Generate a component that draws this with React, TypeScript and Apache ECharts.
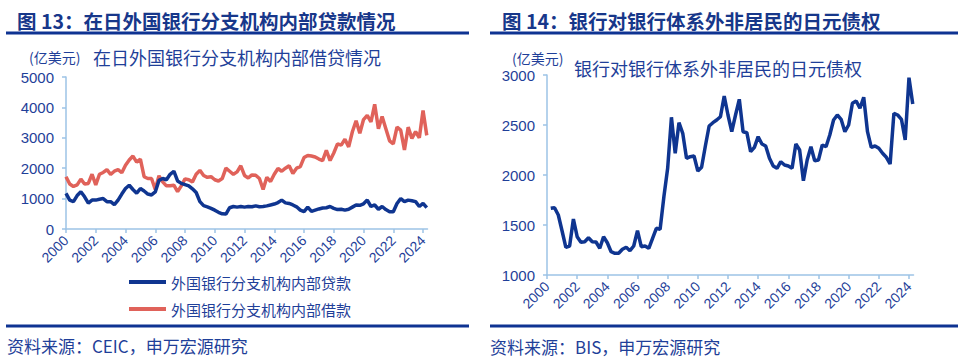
import React, { useEffect, useRef } from "react";
import * as echarts from "echarts";

// Left chart: quarterly readings starting 2000Q1 (in 100 million USD)
const leftStart = 2000;
const lendingValues = [
  1170, 950, 900, 1100,
  1225, 1060, 850, 950,
  950, 980, 1000, 900,
  900, 800, 950, 1150,
  1330, 1440, 1300, 1180,
  1330, 1250, 1150, 1120,
  1220, 1600, 1660, 1620,
  1800, 1900, 1580, 1500,
  1460, 1420, 1320, 1200,
  900, 770, 730, 680,
  620, 550, 500, 490,
  700, 740, 720, 740,
  720, 740, 730, 760,
  730, 740, 760, 790,
  820, 870, 950, 860,
  840, 790, 730, 620,
  570, 720, 580, 620,
  660, 690, 700, 740,
  680, 640, 650, 620,
  650, 720, 790, 780,
  830, 950, 740, 790,
  650, 740, 640, 570,
  570, 840, 1000, 900,
  950, 930, 900, 740,
  840, 700,
];
const borrowingValues = [
  1720, 1480, 1400, 1450,
  1640, 1480, 1500, 1800,
  1450, 1800, 1860, 1950,
  1800, 1900, 1950, 1850,
  2100, 2270, 2400, 2200,
  2300, 1720, 1660, 1660,
  1300, 1750, 1550, 1420,
  1420, 1440, 1230, 1420,
  1650, 1620, 1550, 1800,
  1930, 1760, 1700, 1720,
  1620, 1580, 1660, 2000,
  1900, 1800, 1880, 2080,
  1760, 1680, 1780, 1770,
  1660, 1300, 1700, 1560,
  1800, 1990, 1900, 2000,
  2080, 1830, 2000, 2050,
  2350, 2420, 2400, 2370,
  2300, 2250, 2590, 2250,
  2500, 2800, 2760, 2950,
  2700, 3200, 3560, 3150,
  3600, 3740, 3520, 4100,
  3300, 3700, 3300, 2900,
  2800, 3350, 3250, 2600,
  3350, 2980, 3200, 3000,
  3900, 3080,
];

// Right chart: quarterly readings starting 2000Q2 (in 100 million USD)
const rightStart = 2000.25;
const yenClaimsValues = [
  1667, 1673, 1600,
  1440, 1277, 1290, 1560,
  1383, 1327, 1333, 1373,
  1333, 1330, 1267, 1383,
  1323, 1233, 1217, 1217,
  1257, 1277, 1243, 1290,
  1443, 1283, 1290, 1267,
  1367, 1467, 1457, 1783,
  2067, 2577, 2217, 2523,
  2417, 2167, 2183, 2190,
  2040, 2077, 2290, 2490,
  2523, 2550, 2583, 2790,
  2600, 2433, 2600, 2757,
  2433, 2423, 2233, 2277,
  2383, 2310, 2290, 2167,
  2090, 2067, 2133, 2100,
  2090, 2067, 2310, 2250,
  1943, 2150, 2283, 2143,
  2150, 2300, 2283, 2400,
  2550, 2600, 2557, 2433,
  2500, 2717, 2740, 2667,
  2777, 2433, 2277, 2290,
  2267, 2217, 2177, 2110,
  2617, 2600, 2557, 2350,
  2973, 2710,
];

const yearTicks = [2000, 2002, 2004, 2006, 2008, 2010, 2012, 2014, 2016, 2018, 2020, 2022, 2024];
const leftYTicks = [0, 1000, 2000, 3000, 4000, 5000];
const rightYTicks = [1000, 1500, 2000, 2500, 3000];

const leftTitle = "图 13：在日外国银行分支机构内部贷款情况";
const rightTitle = "图 14：银行对银行体系外非居民的日元债权";
const leftSubtitle = "在日外国银行分支机构内部借贷情况";
const rightSubtitle = "银行对银行体系外非居民的日元债权";
const unitLabel = "(亿美元)";
const lendingName = "外国银行分支机构内部贷款";
const borrowingName = "外国银行分支机构内部借款";
const leftSource = "资料来源：CEIC，申万宏源研究";
const rightSource = "资料来源：BIS，申万宏源研究";

const NAVY = "#0F3590";
const TEXT_BLUE = "#1F3F99";
const AXIS_BLUE = "#9DC3E6";
const RED = "#E0625A";
const CJK = "'Noto Sans CJK SC', 'Noto Sans', sans-serif";
const NUM = "'Liberation Sans', Arial, sans-serif";

function toPairs(start: number, vals: number[]) {
  return vals.map((v, i) => [start + i * 0.25, v]);
}

function xAxisCfg(gridIndex: number) {
  return {
    type: "value" as const,
    gridIndex,
    min: 2000,
    max: 2024.3,
    interval: 2,
    splitLine: { show: false },
    axisLine: { show: true, lineStyle: { color: AXIS_BLUE, width: 1.5 } },
    axisTick: { show: true, length: 4, customValues: yearTicks, lineStyle: { color: AXIS_BLUE, width: 1.5 } },
    axisLabel: {
      customValues: yearTicks,
      rotate: 45,
      margin: 9,
      color: TEXT_BLUE,
      fontSize: 14,
      fontFamily: NUM,
      formatter: (v: number) => String(v),
    },
  };
}

function yAxisCfg(gridIndex: number, ticks: number[], interval: number) {
  return {
    type: "value" as const,
    gridIndex,
    min: ticks[0],
    max: ticks[ticks.length - 1],
    interval,
    splitLine: { show: false },
    axisLine: { show: true, lineStyle: { color: AXIS_BLUE, width: 1.5 } },
    axisTick: { show: true, length: 4, lineStyle: { color: AXIS_BLUE, width: 1.5 } },
    axisLabel: {
      margin: 12,
      color: TEXT_BLUE,
      fontSize: 15,
      fontFamily: NUM,
      formatter: (v: number) => String(v),
    },
  };
}

function txt(text: string, x: number, y: number, size: number, color: string, weight = "normal", family = CJK) {
  return {
    type: "text",
    x,
    y,
    style: {
      text,
      fill: color,
      font: `${weight} ${size}px ${family}`,
      verticalAlign: "middle",
      align: "left",
    },
  };
}

function hline(x1: number, x2: number, y: number) {
  return {
    type: "line",
    shape: { x1, y1: y, x2, y2: y },
    style: { stroke: "#0E3392", lineWidth: 3 },
  };
}

export default function App() {
  const ref = useRef<HTMLDivElement>(null);
  useEffect(() => {
    if (!ref.current) return;
    const chart = echarts.init(ref.current, null, { renderer: "svg" });
    chart.setOption({
      animation: false,
      backgroundColor: "#ffffff",
      grid: [
        { left: 66, top: 77, width: 361.5, height: 152 },
        { left: 547, top: 75, width: 366.5, height: 200 },
      ],
      xAxis: [xAxisCfg(0), xAxisCfg(1)],
      yAxis: [yAxisCfg(0, leftYTicks, 1000), yAxisCfg(1, rightYTicks, 500)],
      legend: {
        data: [lendingName, borrowingName],
        orient: "vertical",
        left: 124,
        top: 267,
        icon: "rect",
        itemWidth: 37,
        itemHeight: 4,
        itemGap: 7,
        textStyle: { color: TEXT_BLUE, fontSize: 15, fontFamily: CJK, lineHeight: 20 },
      },
      series: [
        {
          name: lendingName,
          type: "line",
          xAxisIndex: 0,
          yAxisIndex: 0,
          data: toPairs(leftStart, lendingValues),
          showSymbol: false,
          lineStyle: { color: NAVY, width: 3.5 },
          itemStyle: { color: NAVY },
          z: 3,
        },
        {
          name: borrowingName,
          type: "line",
          xAxisIndex: 0,
          yAxisIndex: 0,
          data: toPairs(leftStart, borrowingValues),
          showSymbol: false,
          lineStyle: { color: RED, width: 3.5 },
          itemStyle: { color: RED },
          z: 2,
        },
        {
          name: "日元债权",
          type: "line",
          xAxisIndex: 1,
          yAxisIndex: 1,
          data: toPairs(rightStart, yenClaimsValues),
          showSymbol: false,
          lineStyle: { color: NAVY, width: 3.5 },
          itemStyle: { color: NAVY },
        },
      ],
      graphic: [
        txt(leftTitle, 17, 20, 19.5, "#17378A", "bold"),
        txt(rightTitle, 502, 20, 19.5, "#17378A", "bold"),
        hline(6, 469, 33),
        hline(490, 958, 33),
        txt(unitLabel, 29, 57, 14, TEXT_BLUE),
        txt(leftSubtitle, 93, 57, 18, TEXT_BLUE),
        txt(unitLabel, 512, 58, 14, TEXT_BLUE),
        txt(rightSubtitle, 574, 68, 18, TEXT_BLUE),
        hline(6, 469, 326),
        hline(490, 958, 326),
        txt(leftSource, 7, 345, 17, TEXT_BLUE),
        txt(rightSource, 490, 346, 17, TEXT_BLUE),
      ],
    });
    return () => chart.dispose();
  }, []);
  return (
    <div
      ref={ref}
      style={{ position: "fixed", left: 0, top: 0, width: 972, height: 362, background: "#fff" }}
    />
  );
}
